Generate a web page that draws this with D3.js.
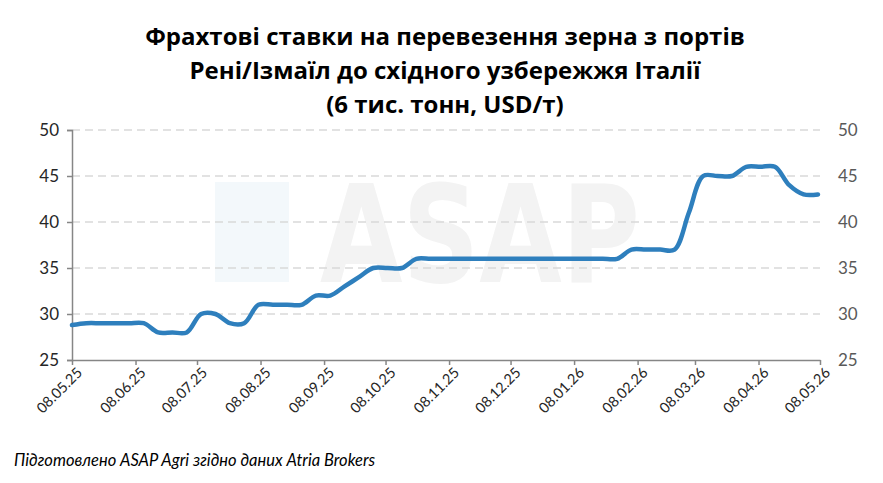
<!DOCTYPE html>
<html><head><meta charset="utf-8">
<script src="https://cdn.jsdelivr.net/npm/d3@7"></script>
<style>body{margin:0;background:#fff}svg{display:block}</style>
</head><body>
<svg id="c" width="883" height="483"></svg>
<script>
const titleLines = ["Фрахтові ставки  на перевезення зерна з портів", "Рені/Ізмаїл до східного узбережжя Італії", "(6 тис. тонн, USD/т)"];
const footer = "Підготовлено ASAP Agri згідно даних Atria Brokers";
const startDate = "2025-05-08";
const tickLabels = ["08.05.25","08.06.25","08.07.25","08.08.25","08.09.25","08.10.25","08.11.25","08.12.25","08.01.26","08.02.26","08.03.26","08.04.26","08.05.26"];
const yTicks = [25,30,35,40,45,50];
// weekly values from 08.05.25
const values = [28.8,29,29,29,29,29,28,28,28,30,30,29,29,31,31,31,31,32,32,33,34,35,35,35,36,36,36,36,36,36,36,36,36,36,36,36,36,36,36,37,37,37,37,41,45,45,45,46,46,46,44,43,43];

const parse = d3.timeParse("%Y-%m-%d");
const parseTick = d3.timeParse("%d.%m.%y");
const t0 = parse(startDate);
const data = values.map((v,i)=>({date:d3.timeDay.offset(t0,i*7), v}));
const tickDates = tickLabels.map(parseTick);

const svg = d3.select("#c");
const font = "Lato, 'Open Sans', sans-serif";
const tfont = "'Open Sans', Lato, sans-serif";
const m = {l:72, r:820, t:130, b:360};
const x = d3.scaleTime().domain([tickDates[0], tickDates[tickDates.length-1]]).range([m.l, m.r]);
const y = d3.scaleLinear().domain([25,50]).range([m.b, m.t]);

// watermark
const wm = svg.append("g");
wm.append("rect").attr("x",215).attr("y",182).attr("width",74).attr("height",100).attr("fill","#f3f8fb");
wm.append("text").attr("x",320).attr("y",282).attr("font-family","'DejaVu Sans', sans-serif").attr("font-weight","bold")
  .attr("font-size",135).attr("fill","#f3f3f3").attr("textLength",320).attr("lengthAdjust","spacingAndGlyphs").text("ASAP");

// grid
svg.append("g").selectAll("line").data(yTicks.filter(d=>d>25)).join("line")
  .attr("x1",m.l).attr("x2",m.r).attr("y1",d=>y(d)).attr("y2",d=>y(d))
  .attr("stroke","#d9d9d9").attr("stroke-width",1.3).attr("stroke-dasharray","8,5");

// left axis
const la = svg.append("g").attr("transform",`translate(${m.l},0)`)
  .call(d3.axisLeft(y).tickValues(yTicks).tickSize(5).tickPadding(8));
la.select(".domain").attr("stroke","#868686").attr("stroke-width",1.5);
la.selectAll(".tick line").attr("stroke","#868686").attr("stroke-width",1.5);
la.selectAll("text").attr("font-family",font).attr("font-size",17).attr("fill","#262626");

// right axis labels
const ra = svg.append("g").attr("transform",`translate(${m.r},0)`)
  .call(d3.axisRight(y).tickValues(yTicks).tickSize(0).tickPadding(18));
ra.select(".domain").remove();
ra.selectAll("text").attr("font-family",font).attr("font-size",17).attr("fill","#595959");

// bottom axis
const ba = svg.append("g").attr("transform",`translate(0,${m.b})`)
  .call(d3.axisBottom(x).tickValues(tickDates).tickFormat((d,i)=>tickLabels[i]).tickSize(5).tickSizeOuter(0));
ba.select(".domain").attr("stroke","#868686").attr("stroke-width",1.5);
ba.selectAll(".tick line").attr("stroke","#868686").attr("stroke-width",1.5);
ba.selectAll("text").attr("font-family",font).attr("font-size",14.5).attr("fill","#262626")
  .attr("text-anchor","end").attr("dy",0).attr("transform","translate(5,8) rotate(-45)");

// line
svg.append("path").datum(data)
  .attr("d", d3.line().x(d=>x(d.date)).y(d=>y(d.v)).curve(d3.curveCatmullRom.alpha(0.5)))
  .attr("fill","none").attr("stroke","#2e7fbd").attr("stroke-width",4.5).attr("stroke-linecap","round");

// title
svg.append("g").selectAll("text").data(titleLines).join("text")
  .attr("x",445).attr("y",(d,i)=>45+i*34).attr("text-anchor","middle")
  .attr("font-family",tfont).attr("font-weight","bold").attr("font-size",24).attr("fill","#000").text(d=>d);

svg.append("text").attr("x",14).attr("y",466).attr("font-family",font).attr("font-style","italic")
  .attr("font-size",16.5).attr("fill","#000").text(footer);
</script>
</body></html>
